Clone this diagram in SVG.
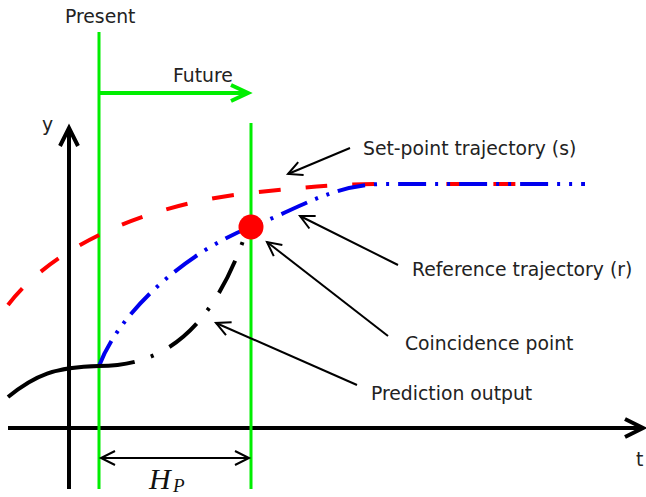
<svg xmlns="http://www.w3.org/2000/svg" width="646" height="497" viewBox="0 0 646 497">
<style>
.lbl{font-family:"DejaVu Sans","Liberation Sans",sans-serif;font-size:18.8px;fill:#222}
.math{font-family:"Liberation Serif","DejaVu Serif",serif;font-style:italic;fill:#111}
.axis{stroke:#000;stroke-width:4;fill:none}
.green{stroke:#00ee00;stroke-width:3;fill:none}
.leader{stroke:#000;stroke-width:2;fill:none}
</style>
<defs>
<marker id="axhead" markerUnits="userSpaceOnUse" viewBox="-22 -14 26 28" refX="0" refY="0" markerWidth="26" markerHeight="28" orient="auto" overflow="visible">
<path d="M-18,-9 L0,0 L-18,9" fill="none" stroke="#000" stroke-width="4"/>
</marker>
<marker id="ghead" markerUnits="userSpaceOnUse" viewBox="-22 -14 26 28" refX="0" refY="0" markerWidth="26" markerHeight="28" orient="auto" overflow="visible">
<path d="M-17,-8 L0,0 L-17,8" fill="none" stroke="#00ee00" stroke-width="4"/>
</marker>
<marker id="lhead" markerUnits="userSpaceOnUse" viewBox="-16 -10 20 20" refX="0" refY="0" markerWidth="20" markerHeight="20" orient="auto-start-reverse" overflow="visible">
<path d="M-14,-7 L0,0 L-14,7" fill="none" stroke="#000" stroke-width="2"/>
</marker>
</defs>

<g id="axes">
<line class="axis" x1="69" y1="489" x2="69" y2="128" marker-end="url(#axhead)"/>
<line class="axis" x1="8" y1="428" x2="643" y2="428" marker-end="url(#axhead)"/>
<text class="lbl" x="42" y="131">y</text>
<text class="lbl" x="636" y="466">t</text>
</g>

<g id="present">
<line class="green" x1="99" y1="32" x2="99" y2="489"/>
<text class="lbl" x="65" y="23">Present</text>
</g>
<g id="horizon">
<line class="green" x1="251" y1="123" x2="251" y2="489"/>
</g>
<g id="future">
<line x1="99" y1="93" x2="248" y2="93" stroke="#00ee00" stroke-width="4" marker-end="url(#ghead)"/>
<text class="lbl" x="173" y="82">Future</text>
</g>

<g id="setpoint-curve">
<path d="M8,305 C50,250 140,205 250,193 C300,188 330,184 380,184 L532,184" fill="none" stroke="#ff0000" stroke-width="4" stroke-dasharray="22 25"/>
</g>
<g id="reference-curve">
<path d="M99,366 C120,310 190,250 251,227 C300,208 330,186 380,184 L585,184" fill="none" stroke="#0000ee" stroke-width="4" stroke-dasharray="28 9 3 9 3 9"/>
</g>
<g id="prediction-curve">
<path d="M8,397 C35,375 55,367 99,366" fill="none" stroke="#000" stroke-width="4"/>
<path d="M99,366 C150,366 205,345 243,241" fill="none" stroke="#000" stroke-width="4" stroke-dasharray="36 17 3 18"/>
</g>
<g id="coincidence-dot">
<circle cx="251" cy="227" r="12.5" fill="#ff0000"/>
</g>

<g id="connectors">
<line class="leader" x1="350" y1="148" x2="288" y2="174" marker-end="url(#lhead)"/>
<line class="leader" x1="398" y1="265" x2="300" y2="216" marker-end="url(#lhead)"/>
<line class="leader" x1="388" y1="336" x2="267" y2="242" marker-end="url(#lhead)"/>
<line class="leader" x1="357" y1="385" x2="216" y2="323" marker-end="url(#lhead)"/>
<line class="leader" x1="101" y1="458" x2="249" y2="458" marker-start="url(#lhead)" marker-end="url(#lhead)"/>
</g>

<g id="setpoint-label"><text class="lbl" x="363" y="155">Set-point trajectory (s)</text></g>
<g id="reference-label"><text class="lbl" x="412" y="276">Reference trajectory (r)</text></g>
<g id="coincidence-label"><text class="lbl" x="405" y="350">Coincidence point</text></g>
<g id="prediction-label"><text class="lbl" x="371" y="400">Prediction output</text></g>
<g id="hp-label">
<text class="math" x="149" y="489" font-size="30">H</text>
<text class="math" x="173" y="492" font-size="19">P</text>
</g>
</svg>
